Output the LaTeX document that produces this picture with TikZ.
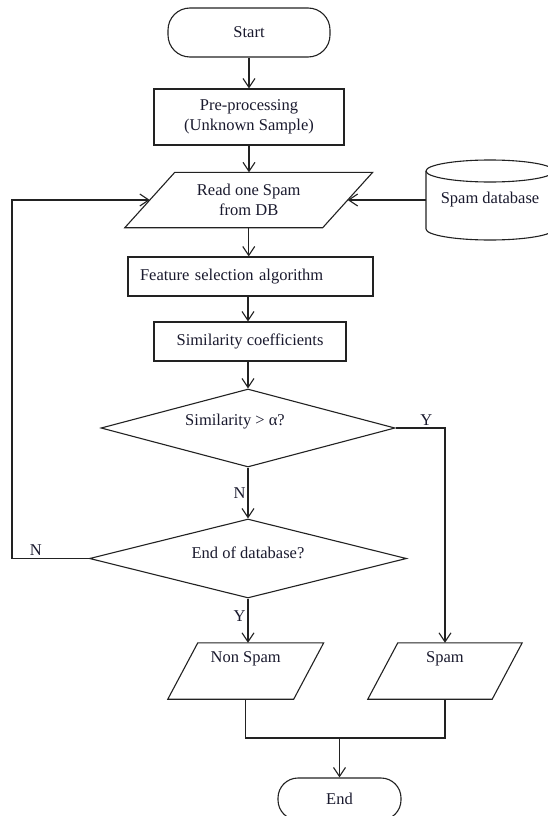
\documentclass[tikz,border=0pt]{standalone}
\usepackage{fontspec}
\setmainfont{Liberation Serif}
\usetikzlibrary{arrows.meta,shapes.geometric}
\definecolor{lc}{HTML}{222222}
\definecolor{tc}{HTML}{1A1A2E}
\tikzset{
  box/.style={draw=lc, line width=1.1pt, rectangle, inner sep=0pt, align=center, text=tc},
  term/.style={box, rounded corners=22pt},
  para/.style={rectangle, inner sep=0pt, align=center, text=tc},
  dec/.style={draw=lc, line width=1.1pt, diamond, inner sep=0pt, text=tc},
  arr/.style={draw=lc, line width=1.1pt, -{Straight Barb[length=9pt,width=12pt]}},
  ln/.style={draw=lc, line width=1.1pt},
  lab/.style={text=tc, inner sep=0pt},
}
\begin{document}
\begin{tikzpicture}[x=1pt,y=-1pt,font=\fontsize{16.5}{20}\selectfont]
\useasboundingbox (0,0) rectangle (547,816);
\fill[white] (0,0) rectangle (547,816);

% nodes
\node[term, minimum width=162pt, minimum height=49pt] (start) at (249,32.5) {Start};
\node[box, minimum width=190pt, minimum height=56pt] (pre) at (249,117) {Pre-processing\\(Unknown Sample)};
\node[para, minimum width=197.5pt, minimum height=55pt] (read) at (248.75,200) {Read one Spam\\from DB};
\draw[ln] ([xshift=25pt]read.north west) -- ([xshift=25pt]read.north east) -- ([xshift=-25pt]read.south east) -- ([xshift=-25pt]read.south west) -- cycle;

\node[para, minimum width=128pt, minimum height=80pt] (db) at (490,200) {Spam database};
\draw[ln] (490,171) ellipse [x radius=64pt, y radius=11pt];
\draw[ln] (426,171) -- (426,229) arc[start angle=180, end angle=360, x radius=64pt, y radius=11pt] -- (554,171);

\node[box, minimum width=245pt, minimum height=39pt, inner xsep=12pt, text width=221pt, align=left] (feat) at (250.5,276.5) {Feature selection algorithm};
\node[box, minimum width=192pt, minimum height=39pt] (sim) at (250,341.5) {Similarity coefficients};

\node[dec, minimum width=294pt, minimum height=78pt, label={[lab, xshift=-13pt, yshift=6pt]center:{Similarity > α?}}] (d1) at (248,428) {};
\node[dec, minimum width=317pt, minimum height=79pt, label={[lab, yshift=6pt]center:{End of database?}}] (d2) at (248,558.5) {};

\node[para, minimum width=125.5pt, minimum height=56pt, label={[lab, yshift=12pt]center:{Non Spam}}] (nonspam) at (245.75,671) {};
\draw[ln] ([xshift=15pt]nonspam.north west) -- ([xshift=15pt]nonspam.north east) -- ([xshift=-15pt]nonspam.south east) -- ([xshift=-15pt]nonspam.south west) -- cycle;
\node[para, minimum width=124pt, minimum height=56pt, label={[lab, yshift=12pt]center:{Spam}}] (spam) at (445,671) {};
\draw[ln] ([xshift=15pt]spam.north west) -- ([xshift=15pt]spam.north east) -- ([xshift=-15pt]spam.south east) -- ([xshift=-15pt]spam.south west) -- cycle;

\node[term, rounded corners=20pt, minimum width=123pt, minimum height=42pt] (end) at (339.5,799) {End};

\coordinate (loopc) at (12,558.5);
\coordinate (m) at (339.5,738);

% connectors
\draw[arr] (start.south) -- (pre.north);
\draw[arr] (pre.south) -- (pre.south |- read.north);
\draw[arr] (db.west) -- (read.east);
\draw[arr] (read.south) -- (read.south |- feat.north);
\draw[arr] (feat.south -| d1.north) -- (sim.north -| d1.north);
\draw[arr] (sim.south -| d1.north) -- (d1.north);
\draw[arr] (d1.south) -- node[lab, left=2pt, pos=0.5]{N} (d2.north);
\draw[arr] (d1.east) -- node[lab, above=1.5pt, pos=0.62]{Y} (d1.east -| spam.north) -- (spam.north);
\draw[arr] (d2.west) -- node[lab, above=2pt, pos=0.69]{N} (loopc) |- (read.west);
\draw[arr] (d2.south) -- node[lab, left=2pt, pos=0.4]{Y} (d2.south |- nonspam.north);
\draw[ln] (nonspam.south) -- (nonspam.south |- m) -- (spam.south |- m) -- (spam.south);
\draw[arr] (m) -- (end.north);
\end{tikzpicture}
\end{document}
